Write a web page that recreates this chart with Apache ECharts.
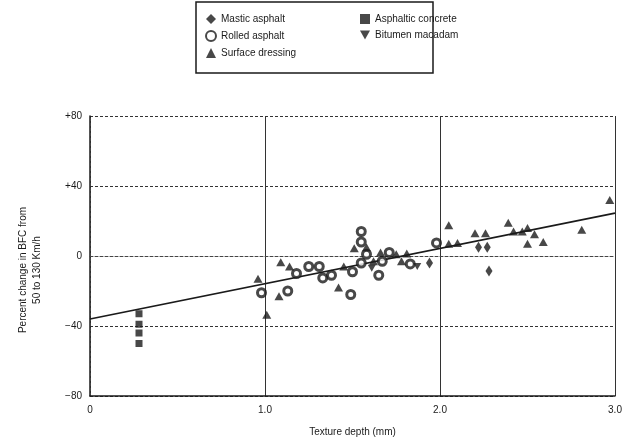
<!DOCTYPE html>
<html><head><meta charset="utf-8">
<script src="https://cdn.jsdelivr.net/npm/echarts@6/dist/echarts.min.js"></script>
<style>html,body{margin:0;padding:0;background:#fff}#c{width:636px;height:444px}</style>
</head><body><div id="c"></div>
<script>
const xTicks = [0, 1, 2, 3];
const yTicks = [-80, -40, 0, 40, 80];
const masticAsphalt = [[1.94,-4],[2.22,5],[2.27,5],[2.28,-8.5]];
const asphalticConcrete = [[0.28,-33],[0.28,-39],[0.28,-44],[0.28,-50]];
const rolledAsphalt = [[0.98,-21],[1.13,-20],[1.18,-10],[1.25,-6],[1.31,-6],[1.33,-12.5],[1.38,-11],[1.49,-22],[1.50,-9],[1.55,14],[1.55,8],[1.58,1],[1.55,-4],[1.65,-11],[1.67,-3],[1.71,2],[1.83,-4.5],[1.98,7.5]];
const surfaceDressing = [[0.96,-13],[1.01,-33.5],[1.08,-23],[1.09,-3.5],[1.14,-6],[1.42,-18],[1.45,-6],[1.51,4.5],[1.58,5],[1.62,-3],[1.66,2],[1.75,1],[1.78,-3],[1.81,1.5],[2.05,17.6],[2.05,7],[2.10,7.5],[2.20,13],[2.26,13],[2.39,19],[2.42,14],[2.47,14],[2.50,16],[2.54,12.5],[2.50,7],[2.59,8],[2.81,15],[2.97,32]];
const bitumenMacadam = [[1.61,-7],[1.87,-6]];
const fitLine = [[0,-36],[3,24.5]];

const chart = echarts.init(document.getElementById('c'));
const font = 'Liberation Sans, Arial, sans-serif';
const ink = '#1a1a1a';
chart.setOption({
  animation: false,
  backgroundColor: '#fff',
  textStyle: {fontFamily: font, color: ink},
  graphic: [{type:'rect', shape:{x:196,y:2,width:237,height:71}, style:{fill:'none', stroke:ink, lineWidth:1.5}, z:100}],
  legend: [
    {left: 200, top: 9, orient: 'vertical', itemGap: 6, itemWidth: 10, itemHeight: 10,
     textStyle:{fontSize:10, color:ink, fontFamily:font}, data:['Mastic asphalt','Rolled asphalt','Surface dressing']},
    {left: 355, top: 9, orient: 'vertical', itemGap: 6, itemWidth: 10, itemHeight: 10,
     textStyle:{fontSize:10, color:ink, fontFamily:font}, data:['Asphaltic concrete','Bitumen macadam']}
  ],
  grid: {left: 90, right: 21, top: 116, bottom: 48},
  xAxis: [{
    type:'value', min: xTicks[0], max: xTicks[xTicks.length-1], interval: 1,
    axisLine:{show:true, onZero:false, lineStyle:{color:ink, width:1.5}},
    axisTick:{show:false},
    axisLabel:{fontSize:10, color:ink, margin:9, formatter: v => v === 0 ? '0' : v.toFixed(1)},
    splitLine:{show:true, lineStyle:{color:'#333', width:1}},
    name:'Texture depth (mm)', nameLocation:'middle', nameGap:31,
    nameTextStyle:{fontSize:10, color:ink}
  },{
    type:'value', position:'top', min: xTicks[0], max: xTicks[xTicks.length-1], interval:1,
    axisLine:{show:true, lineStyle:{color:'#444', width:1, type:[3,2]}},
    axisTick:{show:false}, axisLabel:{show:false}, splitLine:{show:false}
  }],
  yAxis: [{
    type:'value', min: yTicks[0], max: yTicks[yTicks.length-1], interval: 40,
    axisLine:{show:true, onZero:false, lineStyle:{color:ink, width:1.5}},
    axisTick:{show:false},
    axisLabel:{fontSize:10, color:ink, margin:8, formatter: v => v > 0 ? '+' + v : (v < 0 ? '\u2212' + Math.abs(v) : '0')},
    splitLine:{show:true, lineStyle:{color:'#333', width:1, type:[3,2]}},
    name:'Percent change in BFC from\n50 to 130 Km/h', nameLocation:'middle', nameGap:46, nameRotate:90,
    nameTextStyle:{fontSize:10, color:ink, lineHeight:14, padding:[0,28,0,0]}
  },{
    type:'value', position:'right', min: yTicks[0], max: yTicks[yTicks.length-1], interval:40,
    axisLine:{show:true, lineStyle:{color:'#444', width:1, type:[3,2]}},
    axisTick:{show:false}, axisLabel:{show:false}, splitLine:{show:false}
  }],
  series: [
    {name:'Mastic asphalt', type:'scatter', data: masticAsphalt, symbol:'diamond', symbolSize:[7,11],
     itemStyle:{color:ink}},
    {name:'Rolled asphalt', type:'scatter', data: rolledAsphalt, symbol:'circle', symbolSize:8,
     itemStyle:{color:'#fff', borderColor:ink, borderWidth:3}},
    {name:'Surface dressing', type:'scatter', data: surfaceDressing, symbol:'triangle', symbolSize:[9,8],
     itemStyle:{color:ink}},
    {name:'Asphaltic concrete', type:'scatter', data: asphalticConcrete, symbol:'rect', symbolSize:7,
     itemStyle:{color:ink}},
    {name:'Bitumen macadam', type:'scatter', data: bitumenMacadam, symbol:'path://M0,0 L10,0 L5,9 Z', symbolSize:[8,7],
     itemStyle:{color:ink}},
    {name:'fit', type:'line', data: fitLine, showSymbol:false, symbol:'none',
     lineStyle:{color:ink, width:1.6}, z:1}
  ]
});
</script></body></html>
